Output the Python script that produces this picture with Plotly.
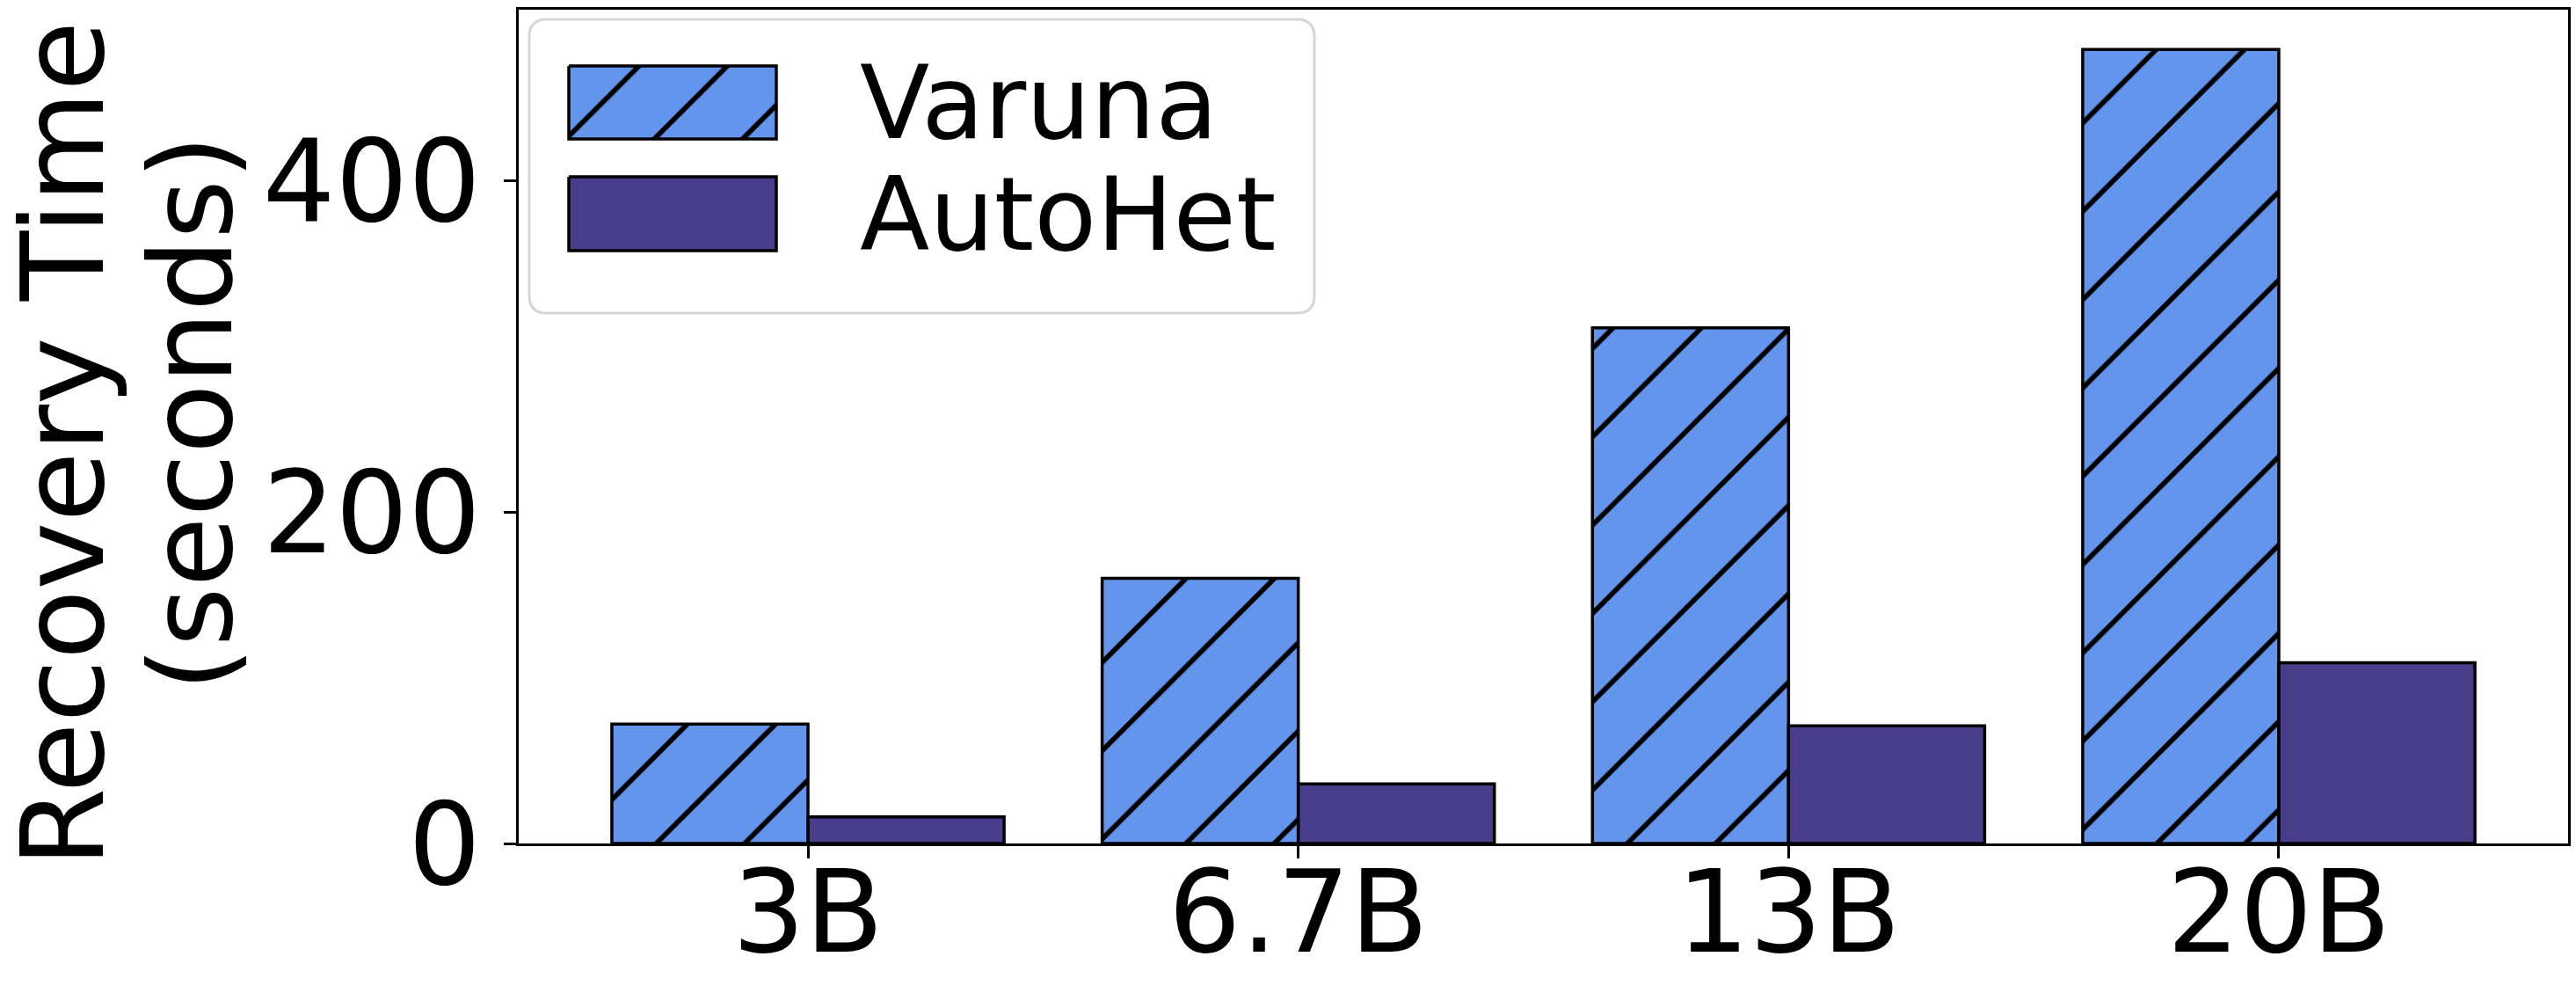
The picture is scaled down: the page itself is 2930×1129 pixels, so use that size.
"""Recovery time of Varuna vs AutoHet for several model sizes."""

import plotly.graph_objects as go

MODELS = ["3B", "6.7B", "13B", "20B"]
VARUNA_SECONDS = [72, 160, 311, 479]
AUTOHET_SECONDS = [16, 36, 71, 109]
Y_TICKS = [0, 200, 400]

VARUNA_COLOR = "#6495ED"
AUTOHET_COLOR = "#483D8B"
FONT = "DejaVu Sans"

# plot area in page pixels
PLOT_LEFT, PLOT_RIGHT, PLOT_TOP, PLOT_BOTTOM = 590, 2921, 11, 959


def _px_x(px):
    return (px - PLOT_LEFT) / (PLOT_RIGHT - PLOT_LEFT)


def _px_y(py):
    return 1 - (py - PLOT_TOP) / (PLOT_BOTTOM - PLOT_TOP)


def _hatch():
    return dict(shape="/", fgcolor="black", fgopacity=1, size=71, solidity=0.08)


def _rect(x0, y0, x1, y1):
    return [x0, x1, x1, x0, x0], [y0, y0, y1, y1, y0]


def _rounded_path(x0, y0, x1, y1, r):
    return (
        f"M{x0 + r},{y0} L{x1 - r},{y0} Q{x1},{y0} {x1},{y0 + r} "
        f"L{x1},{y1 - r} Q{x1},{y1} {x1 - r},{y1} L{x0 + r},{y1} "
        f"Q{x0},{y1} {x0},{y1 - r} L{x0},{y0 + r} Q{x0},{y0} {x0 + r},{y0} Z"
    )


fig = go.Figure()

fig.add_trace(go.Bar(
    name="Varuna",
    x=MODELS,
    y=VARUNA_SECONDS,
    marker=dict(color=VARUNA_COLOR, line=dict(color="black", width=3.5), pattern=_hatch()),
    showlegend=False,
))
fig.add_trace(go.Bar(
    name="AutoHet",
    x=MODELS,
    y=AUTOHET_SECONDS,
    marker=dict(color=AUTOHET_COLOR, line=dict(color="black", width=3.5)),
    showlegend=False,
))

# legend drawn by hand so the patches can be as big as in the original
vx, vy = _rect(647, 75, 883, 158)
fig.add_trace(go.Scatter(
    x=vx, y=vy, xaxis="x2", yaxis="y2", mode="lines", fill="toself",
    fillcolor=VARUNA_COLOR, fillpattern=_hatch(),
    line=dict(color="black", width=3.5), hoverinfo="skip", showlegend=False,
))
ax, ay = _rect(647, 201, 883, 285)
fig.add_trace(go.Scatter(
    x=ax, y=ay, xaxis="x2", yaxis="y2", mode="lines", fill="toself",
    fillcolor=AUTOHET_COLOR,
    line=dict(color="black", width=3.5), hoverinfo="skip", showlegend=False,
))

fig.add_shape(
    type="path", xref="x2", yref="y2", layer="below",
    path=_rounded_path(602, 22, 1495, 356, 20),
    fillcolor="white", line=dict(color="#d6d6d6", width=3),
)

for label, y in [("Varuna", 116), ("AutoHet", 243)]:
    fig.add_annotation(
        x=976, y=y, xref="x2", yref="y2", text=label, showarrow=False,
        xanchor="left", yanchor="middle", font=dict(family=FONT, size=116, color="black"),
    )

# two-line y-axis label
fig.add_annotation(
    x=_px_x(72), y=_px_y(505), xref="paper", yref="paper", text="Recovery Time",
    textangle=-90, showarrow=False, xanchor="center", yanchor="middle",
    font=dict(family=FONT, size=130, color="black"),
)
fig.add_annotation(
    x=_px_x(218), y=_px_y(470), xref="paper", yref="paper", text="(seconds)",
    textangle=-90, showarrow=False, xanchor="center", yanchor="middle",
    font=dict(family=FONT, size=130, color="black"),
)

fig.update_layout(
    width=2930,
    height=1129,
    margin=dict(l=PLOT_LEFT, r=2930 - PLOT_RIGHT, t=PLOT_TOP, b=1129 - PLOT_BOTTOM, pad=0),
    paper_bgcolor="white",
    plot_bgcolor="white",
    barmode="group",
    bargap=0.2,
    bargroupgap=0,
    font=dict(family=FONT, size=130, color="black"),
    xaxis=dict(
        type="category",
        range=[-0.59, 3.59],
        automargin=False,
        showline=True, linecolor="black", linewidth=3, mirror=True,
        ticks="outside", ticklen=14, tickwidth=3, tickcolor="black",
        ticklabelstandoff=-50,
        tickfont=dict(family=FONT, size=130, color="black"),
        showgrid=False, zeroline=False,
    ),
    yaxis=dict(
        range=[0, 503],
        tickvals=Y_TICKS,
        automargin=False,
        showline=True, linecolor="black", linewidth=3, mirror=True,
        ticks="outside", ticklen=14, tickwidth=3, tickcolor="black",
        tickfont=dict(family=FONT, size=130, color="black"),
        showgrid=False, zeroline=False,
    ),
    xaxis2=dict(overlaying="x", range=[PLOT_LEFT, PLOT_RIGHT], visible=False, fixedrange=True),
    yaxis2=dict(overlaying="y", range=[PLOT_BOTTOM, PLOT_TOP], visible=False, fixedrange=True),
)

# drop the default 8px body margin so the figure sits at the page corner
fig.write_html(
    "out.html",
    config={"displayModeBar": False},
    post_script="document.body.style.margin = '0';",
)
